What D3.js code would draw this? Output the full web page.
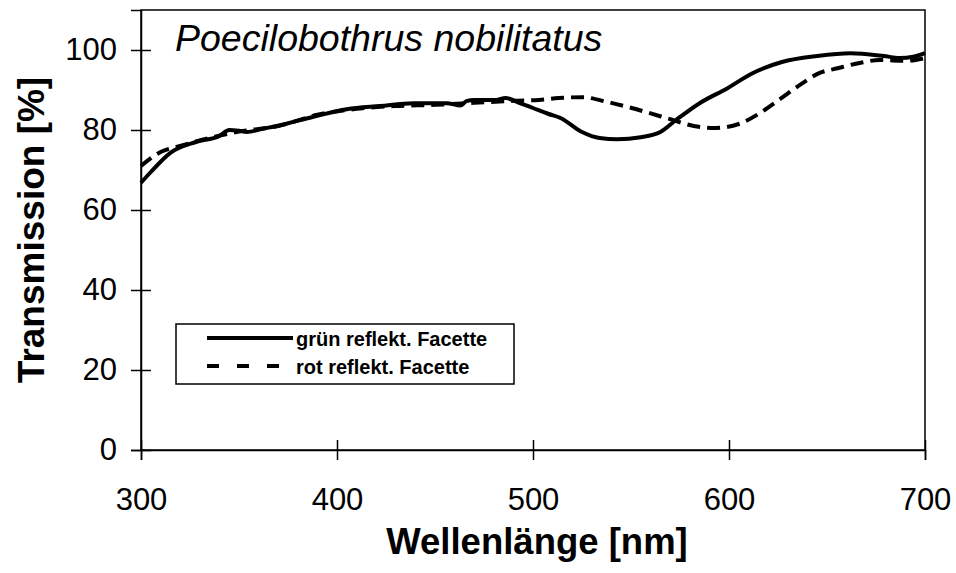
<!DOCTYPE html>
<html>
<head>
<meta charset="utf-8">
<script src="https://cdn.jsdelivr.net/npm/d3@7"></script>
<style>
  body { margin: 0; background: #fff; }
  svg { display: block; font-family: Arial, "Liberation Sans", sans-serif; }
</style>
</head>
<body>
<div id="chart"></div>
<script>
const width = 956, height = 573;

// green-reflecting facet (solid)
const gruenNm = [300, 305, 315, 328, 340, 345, 350, 354, 362, 371, 388, 405, 422, 439, 456, 463, 466, 470, 481, 486, 493, 500, 508, 514, 525, 534, 543, 555, 565, 573, 585, 599, 612, 627, 645, 662, 679, 687, 694, 700];
const gruenT  = [66.8, 69.5, 74.3, 77, 78.5, 80, 79.8, 79.5, 80.3, 81.2, 83.3, 85.2, 86, 86.7, 86.7, 86.1, 87.2, 87.5, 87.5, 88, 86.8, 85.5, 84, 83, 79.5, 78, 77.7, 78.2, 79.5, 82.5, 86.7, 90.4, 94.2, 97, 98.5, 99.2, 98.5, 98, 98.3, 99.2];

// red-reflecting facet (dashed)
const rotNm = [300, 310, 320, 335, 350, 370, 390, 410, 430, 450, 470, 490, 503, 513, 525, 538, 548, 559, 570, 582, 593, 605, 616, 626, 636, 646, 656, 666, 677, 690, 700];
const rotT  = [71, 74.5, 76, 78, 79.6, 81, 83.8, 85.3, 86, 86.3, 86.8, 87.3, 87.5, 88, 88.2, 87, 85.8, 84.3, 82.7, 81, 80.5, 81.5, 84.3, 87.7, 91.2, 94.2, 95.5, 96.7, 97.5, 97.3, 98];

const xTicks = [300, 400, 500, 600, 700];
const yTicks = [0, 20, 40, 60, 80, 100];

const svg = d3.select("#chart").append("svg")
    .attr("width", width)
    .attr("height", height);

const x = d3.scaleLinear().domain([300, 700]).range([141, 925]);
const y = d3.scaleLinear().domain([0, 110]).range([450, 10]);

// frame
svg.append("rect")
    .attr("x", x(300)).attr("y", y(110))
    .attr("width", x(700) - x(300)).attr("height", y(0) - y(110))
    .attr("fill", "none").attr("stroke", "#000").attr("stroke-width", 1.5);

// axes with ticks crossing the line
const xAxis = svg.append("g")
    .attr("transform", `translate(0,${y(0)})`)
    .call(d3.axisBottom(x).tickValues(xTicks).tickSize(10).tickPadding(28).tickFormat(d3.format("d")));
xAxis.selectAll(".tick line").attr("y1", -10).attr("y2", 10);

const yAxis = svg.append("g")
    .attr("transform", `translate(${x(300)},0)`)
    .call(d3.axisLeft(y).tickValues(yTicks).tickSize(10).tickPadding(14).tickFormat(d3.format("d")));
yAxis.selectAll(".tick line").attr("x1", 10).attr("x2", -10);

svg.selectAll(".domain").attr("stroke", "#000").attr("stroke-width", 1.5);
svg.selectAll(".tick line").attr("stroke", "#000").attr("stroke-width", 1.5);
svg.selectAll(".tick text")
    .attr("fill", "#000")
    .style("font-size", "31px")
    .style("font-family", "Arial, 'Liberation Sans', sans-serif");

// curves
const line = d3.line()
    .x(d => x(d[0]))
    .y(d => y(d[1]))
    .curve(d3.curveMonotoneX);

svg.append("path")
    .datum(rotNm.map((n, i) => [n, rotT[i]]))
    .attr("d", line)
    .attr("fill", "none")
    .attr("stroke", "#000")
    .attr("stroke-width", 4)
    .attr("stroke-dasharray", "13,7");

svg.append("path")
    .datum(gruenNm.map((n, i) => [n, gruenT[i]]))
    .attr("d", line)
    .attr("fill", "none")
    .attr("stroke", "#000")
    .attr("stroke-width", 4)
    .attr("stroke-linejoin", "round");

// title
svg.append("text")
    .attr("x", 175).attr("y", 51)
    .style("font-size", "37.5px")
    .style("font-style", "italic")
    .text("Poecilobothrus nobilitatus");

// legend
const legend = svg.append("g");
legend.append("rect")
    .attr("x", 176).attr("y", 324)
    .attr("width", 338).attr("height", 60)
    .attr("fill", "#fff").attr("stroke", "#000").attr("stroke-width", 1.5);
legend.append("line")
    .attr("x1", 207).attr("x2", 293).attr("y1", 338).attr("y2", 338)
    .attr("stroke", "#000").attr("stroke-width", 4);
legend.append("line")
    .attr("x1", 207).attr("x2", 280).attr("y1", 366).attr("y2", 366)
    .attr("stroke", "#000").attr("stroke-width", 4)
    .attr("stroke-dasharray", "12,18");
legend.append("text")
    .attr("x", 296).attr("y", 346)
    .style("font-size", "20px").style("font-weight", "bold")
    .text("grün reflekt. Facette");
legend.append("text")
    .attr("x", 296).attr("y", 374)
    .style("font-size", "20px").style("font-weight", "bold")
    .text("rot reflekt. Facette");

// axis titles
svg.append("text")
    .attr("x", (x(300) + x(700)) / 2 + 4).attr("y", 554)
    .attr("text-anchor", "middle")
    .style("font-size", "36.5px").style("font-weight", "bold")
    .text("Wellenlänge [nm]");

svg.append("text")
    .attr("transform", `translate(44,${(y(0) + y(110)) / 2}) rotate(-90)`)
    .attr("text-anchor", "middle")
    .style("font-size", "37px").style("font-weight", "bold")
    .text("Transmission [%]");
</script>
</body>
</html>
